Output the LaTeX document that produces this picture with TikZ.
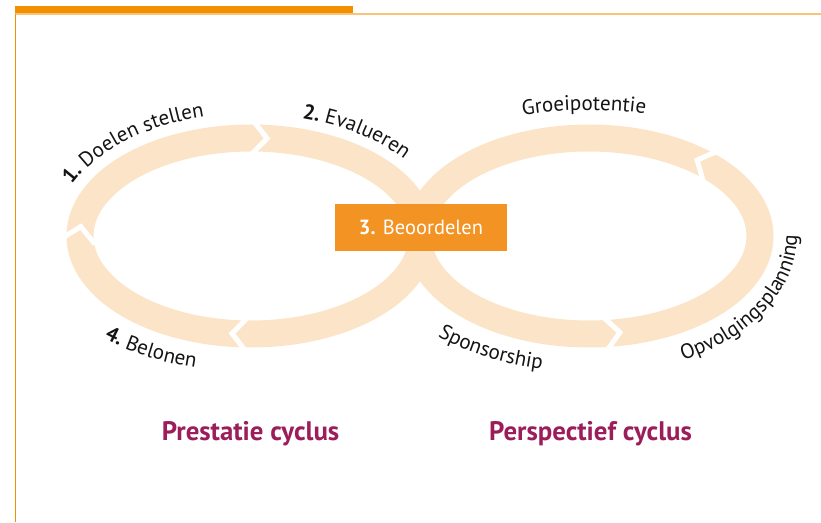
\documentclass[tikz,border=0pt]{standalone}
\usepackage{fontspec}
\setmainfont{PT Sans}
\usetikzlibrary{decorations.text}
\definecolor{ringc}{RGB}{252,228,200}
\definecolor{boxc}{RGB}{243,147,35}
\definecolor{barc}{RGB}{242,145,0}
\definecolor{linec}{RGB}{249,196,122}
\definecolor{titlec}{RGB}{155,30,90}
\definecolor{labc}{RGB}{20,20,20}
\newcommand\labfont{\fontsize{21}{24}\selectfont\color{labc}}
\newcommand\chev[4]{%
 \pgfmathsetmacro\chPx{#1+171*cos(#3)}%
 \pgfmathsetmacro\chPy{#2+98*sin(#3)}%
 \pgfmathsetmacro\chTx{-171*sin(#3)}%
 \pgfmathsetmacro\chTy{98*cos(#3)}%
 \pgfmathsetmacro\chL{veclen(\chTx,\chTy)}%
 \pgfmathsetmacro\chDx{#4*(\chTx)/\chL}%
 \pgfmathsetmacro\chDy{#4*(\chTy)/\chL}%
 \pgfmathsetmacro\chNx{(\chTy)/\chL}%
 \pgfmathsetmacro\chNy{-1*(\chTx)/\chL}%
 \draw[gapline] ({\chPx+17*(\chNx)-15*(\chDx)},{\chPy+17*(\chNy)-15*(\chDy)}) -- (\chPx,\chPy) -- ({\chPx-17*(\chNx)-15*(\chDx)},{\chPy-17*(\chNy)-15*(\chDy)});%
}
\newcommand\arclabel[7]{%
 \path[decorate, decoration={text along path, text={#7}}] ({#1+#3*cos(#5)},{#2+#4*sin(#5)}) arc[start angle=#5, end angle=#6, x radius=#3, y radius=#4];%
}
\tikzset{
 ring/.style={draw=ringc, line width=27pt},
 gapline/.style={draw=white, line width=5pt, miter limit=10},
 boxstyle/.style={fill=boxc, text=white, minimum width=172pt, minimum height=47pt, inner sep=0pt, font=\fontsize{20.5}{24}\selectfont},
 titlestyle/.style={text=titlec, font=\fontsize{26.8}{30}\selectfont\bfseries, anchor=base, inner sep=0pt}
}
\begin{document}
\begin{tikzpicture}[x=1pt,y=1pt]
\useasboundingbox (0,0) rectangle (821,522);
% frame
\fill[barc] (15,508) rectangle (353,516);
\draw[linec, line width=1.5pt] (15,508) -- (821,508);
\draw[barc, line width=0.9pt] (15.5,508) -- (15.5,0);
% rings
\draw[ring] (251,286) ellipse[x radius=171, y radius=98];
\draw[ring] (589,286) ellipse[x radius=171, y radius=98];
% arrow gaps
\chev{251}{286}{84.6}{-1}
\chev{251}{286}{174.5}{-1}
\chev{251}{286}{263.6}{-1}
\chev{589}{286}{50.8}{1}
\chev{589}{286}{280.4}{1}
% center box
\node[boxstyle] (beo) at (421,294.5) {\textbf{3.} Beoordelen};
% labels
\arclabel{251}{286}{197}{123}{155.5}{80}{|\labfont\bfseries|1. |\labfont|Doelen stellen}
\arclabel{251}{286}{197}{122}{75}{0}{|\labfont\bfseries|2. |\labfont|Evalueren}
\arclabel{251}{286}{224}{136}{229}{310}{|\labfont\bfseries|4. |\labfont|Belonen}
\arclabel{589}{286}{230}{126}{106.7}{50}{|\labfont|Groeipotentie}
\arclabel{589}{286}{224}{136}{227.5}{310}{|\labfont|Sponsorship}
\arclabel{589}{286}{208}{140}{-63}{40}{|\labfont|Opvolgingsplanning}
% titles
\node[titlestyle] (t1) at (250.5,82) {Prestatie cyclus};
\node[titlestyle] (t2) at (590.5,82) {Perspectief cyclus};
\end{tikzpicture}
\end{document}
